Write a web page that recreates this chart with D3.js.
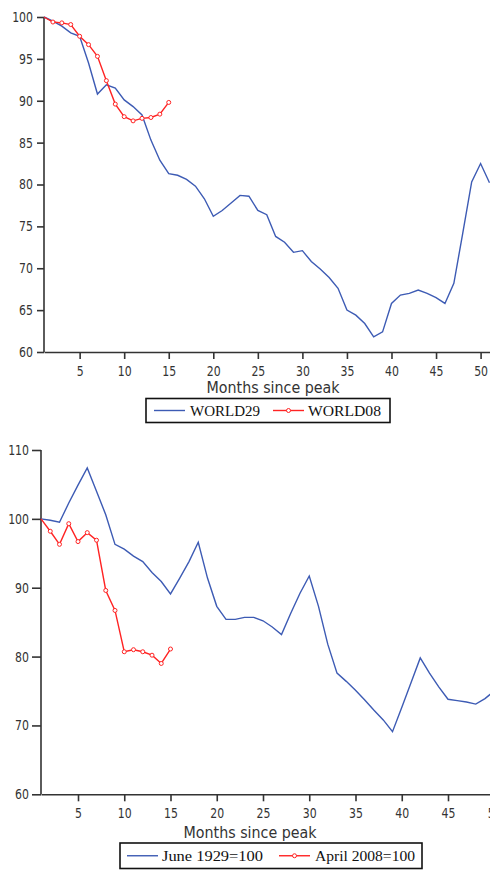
<!DOCTYPE html>
<html>
<head>
<meta charset="utf-8">
<script src="https://cdn.jsdelivr.net/npm/d3@7"></script>
<style>
  body { margin: 0; background: #fff; }
  svg { display: block; }
  .tick text { font-family: "DejaVu Sans", sans-serif; font-size: 14px; fill: #333; }
  .axis path, .axis line { stroke: #333; stroke-width: 1.6; }
  .title { font-family: "DejaVu Sans", sans-serif; font-size: 15px; fill: #333; }
  .legend text { font-family: "Liberation Serif", serif; font-size: 15px; fill: #111; }
</style>
</head>
<body>
<div class="chart-container"></div>
<script>
// months since peak, top panel (world industrial output)
var world29 = [100, 99.5, 98.9, 98.1, 97.7, 94.5, 90.8, 91.9, 91.5, 90.1,
               89.3, 88.3, 85.3, 82.9, 81.3, 81.1, 80.6, 79.8, 78.3, 76.2,
               76.9, 77.8, 78.7, 78.6, 76.9, 76.4, 73.8, 73.1, 71.9, 72.1,
               70.8, 69.9, 68.9, 67.6, 65.0, 64.4, 63.4, 61.8, 62.4, 65.8,
               66.8, 67.0, 67.4, 67.0, 66.5, 65.8, 68.2, 74.2, 80.3, 82.5,
               80.2];
var world08 = [100, 99.4, 99.3, 99.1, 97.7, 96.7, 95.3, 92.4, 89.6, 88.1,
               87.6, 87.9, 88.0, 88.4, 89.8];

// bottom panel
var june1929 = [100, 99.8, 99.5, 102.3, 104.9, 107.4, 104.0, 100.6, 96.3, 95.6,
                94.6, 93.8, 92.2, 90.9, 89.1, 91.4, 93.8, 96.6, 91.4, 87.3,
                85.4, 85.4, 85.7, 85.7, 85.2, 84.3, 83.2, 86.3, 89.2, 91.7,
                87.3, 81.8, 77.6, 76.4, 75.1, 73.7, 72.2, 70.8, 69.1, 72.6,
                76.2, 79.8, 77.6, 75.6, 73.8, 73.6, 73.4, 73.1, 73.9, 75.0];
var april2008 = [100, 98.2, 96.3, 99.3, 96.7, 98.0, 96.9, 89.6, 86.7, 80.7,
                 81.0, 80.7, 80.2, 79.0, 81.1];

var monthTicks = [5, 10, 15, 20, 25, 30, 35, 40, 45, 50];
var topYTicks = [60, 65, 70, 75, 80, 85, 90, 95, 100];
var bottomYTicks = [60, 70, 80, 90, 100, 110];

var topLegend = ["WORLD29", "WORLD08"];
var bottomLegend = ["June 1929=100", "April 2008=100"];
var xTitle = "Months since peak";

var blue = "#3d5bb4", red = "#ff2323";
var squeeze = 0.78;

var svg = d3.select(".chart-container").append("svg")
    .attr("width", 490)
    .attr("height", 871);

function toPoints(arr) {
    return arr.map(function (v, i) { return { m: i + 1, v: v }; });
}

function drawPanel(cfg) {
    var x = d3.scaleLinear().domain([1, 51]).range(cfg.xRange);
    var y = d3.scaleLinear().domain(cfg.yDomain).range(cfg.yRange);
    var g = svg.append("g");

    var yAxis = g.append("g")
        .attr("class", "axis")
        .attr("transform", "translate(" + cfg.xRange[0] + ",0)")
        .call(d3.axisLeft(y).tickValues(cfg.yTicks).tickSize(cfg.yTickSize).tickSizeOuter(0));
    yAxis.selectAll("text")
        .attr("transform", "scale(" + squeeze + ",1)")
        .attr("x", -cfg.yLabelGap / squeeze);

    var xAxis = g.append("g")
        .attr("class", "axis")
        .attr("transform", "translate(0," + cfg.yRange[0] + ")")
        .call(d3.axisBottom(x).tickValues(monthTicks).tickSize(7).tickPadding(7).tickSizeOuter(0));
    xAxis.selectAll("text")
        .attr("transform", "scale(" + squeeze + ",1)")
        .attr("x", function (d) { return 0; });
    xAxis.selectAll(".tick").each(function (d) {
        // scale around the tick centre so labels stay put
        d3.select(this).select("text")
            .attr("transform", "scale(" + squeeze + ",1)");
    });
    yAxis.select(".domain").remove();
    g.append("line")
        .attr("x1", cfg.xRange[0]).attr("x2", cfg.xRange[0])
        .attr("y1", y(cfg.yDomain[0])).attr("y2", y(cfg.yDomain[1]))
        .attr("stroke", "#333").attr("stroke-width", 1.6);

    g.append("text")
        .attr("class", "title")
        .attr("x", cfg.titleX - 66.5)
        .attr("y", cfg.titleY)
        .attr("textLength", 133)
        .attr("lengthAdjust", "spacingAndGlyphs")
        .text(xTitle);

    var line = d3.line()
        .x(function (d) { return x(d.m); })
        .y(function (d) { return y(d.v); });

    g.append("path")
        .datum(toPoints(cfg.blue))
        .attr("fill", "none")
        .attr("stroke", blue)
        .attr("stroke-width", 1.4)
        .attr("d", line);

    var redPts = toPoints(cfg.red);
    g.append("path")
        .datum(redPts)
        .attr("fill", "none")
        .attr("stroke", red)
        .attr("stroke-width", 1.4)
        .attr("d", line);

    g.selectAll(".dot")
        .data(redPts.slice(1))
        .enter().append("circle")
        .attr("class", "dot")
        .attr("cx", function (d) { return x(d.m); })
        .attr("cy", function (d) { return y(d.v); })
        .attr("r", 2)
        .attr("fill", "#fff")
        .attr("stroke", red)
        .attr("stroke-width", 1);

    // legend box
    var lg = g.append("g").attr("class", "legend");
    var b = cfg.legendBox;
    lg.append("rect")
        .attr("x", b[0]).attr("y", b[1])
        .attr("width", b[2] - b[0]).attr("height", b[3] - b[1])
        .attr("fill", "#fff").attr("stroke", "#111").attr("stroke-width", 1.6);
    var cy = (b[1] + b[3]) / 2;
    var it = cfg.legendItems;
    lg.append("line")
        .attr("x1", it[0].x1).attr("x2", it[0].x2).attr("y1", cy).attr("y2", cy)
        .attr("stroke", blue).attr("stroke-width", 1.4);
    lg.append("text")
        .attr("x", it[0].tx).attr("y", cy).attr("dy", "0.35em")
        .attr("textLength", it[0].tw).attr("lengthAdjust", "spacingAndGlyphs")
        .text(cfg.labels[0]);
    lg.append("line")
        .attr("x1", it[1].x1).attr("x2", it[1].x2).attr("y1", cy).attr("y2", cy)
        .attr("stroke", red).attr("stroke-width", 1.4);
    lg.append("circle")
        .attr("cx", (it[1].x1 + it[1].x2) / 2).attr("cy", cy).attr("r", 2)
        .attr("fill", "#fff").attr("stroke", red).attr("stroke-width", 1);
    lg.append("text")
        .attr("x", it[1].tx).attr("y", cy).attr("dy", "0.35em")
        .attr("textLength", it[1].tw).attr("lengthAdjust", "spacingAndGlyphs")
        .text(cfg.labels[1]);
}

drawPanel({
    xRange: [44, 489.5],
    yDomain: [60, 100],
    yRange: [352, 17],
    yTicks: topYTicks,
    yTickSize: 7,
    yLabelGap: 11,
    titleX: 273,
    titleY: 393,
    blue: world29,
    red: world08,
    labels: topLegend,
    legendBox: [146, 398.5, 390, 422.5],
    legendItems: [
        { x1: 154, x2: 185, tx: 190, tw: 70 },
        { x1: 273, x2: 304, tx: 308, tw: 73 }
    ]
});

drawPanel({
    xRange: [41, 503.5],
    yDomain: [60, 110],
    yRange: [794.3, 450],
    yTicks: bottomYTicks,
    yTickSize: 9,
    yLabelGap: 12,
    titleX: 250,
    titleY: 838,
    blue: june1929,
    red: april2008,
    labels: bottomLegend,
    legendBox: [120, 843, 422, 868.5],
    legendItems: [
        { x1: 127, x2: 158, tx: 162, tw: 101 },
        { x1: 279, x2: 310, tx: 315, tw: 100 }
    ]
});
</script>
</body>
</html>
